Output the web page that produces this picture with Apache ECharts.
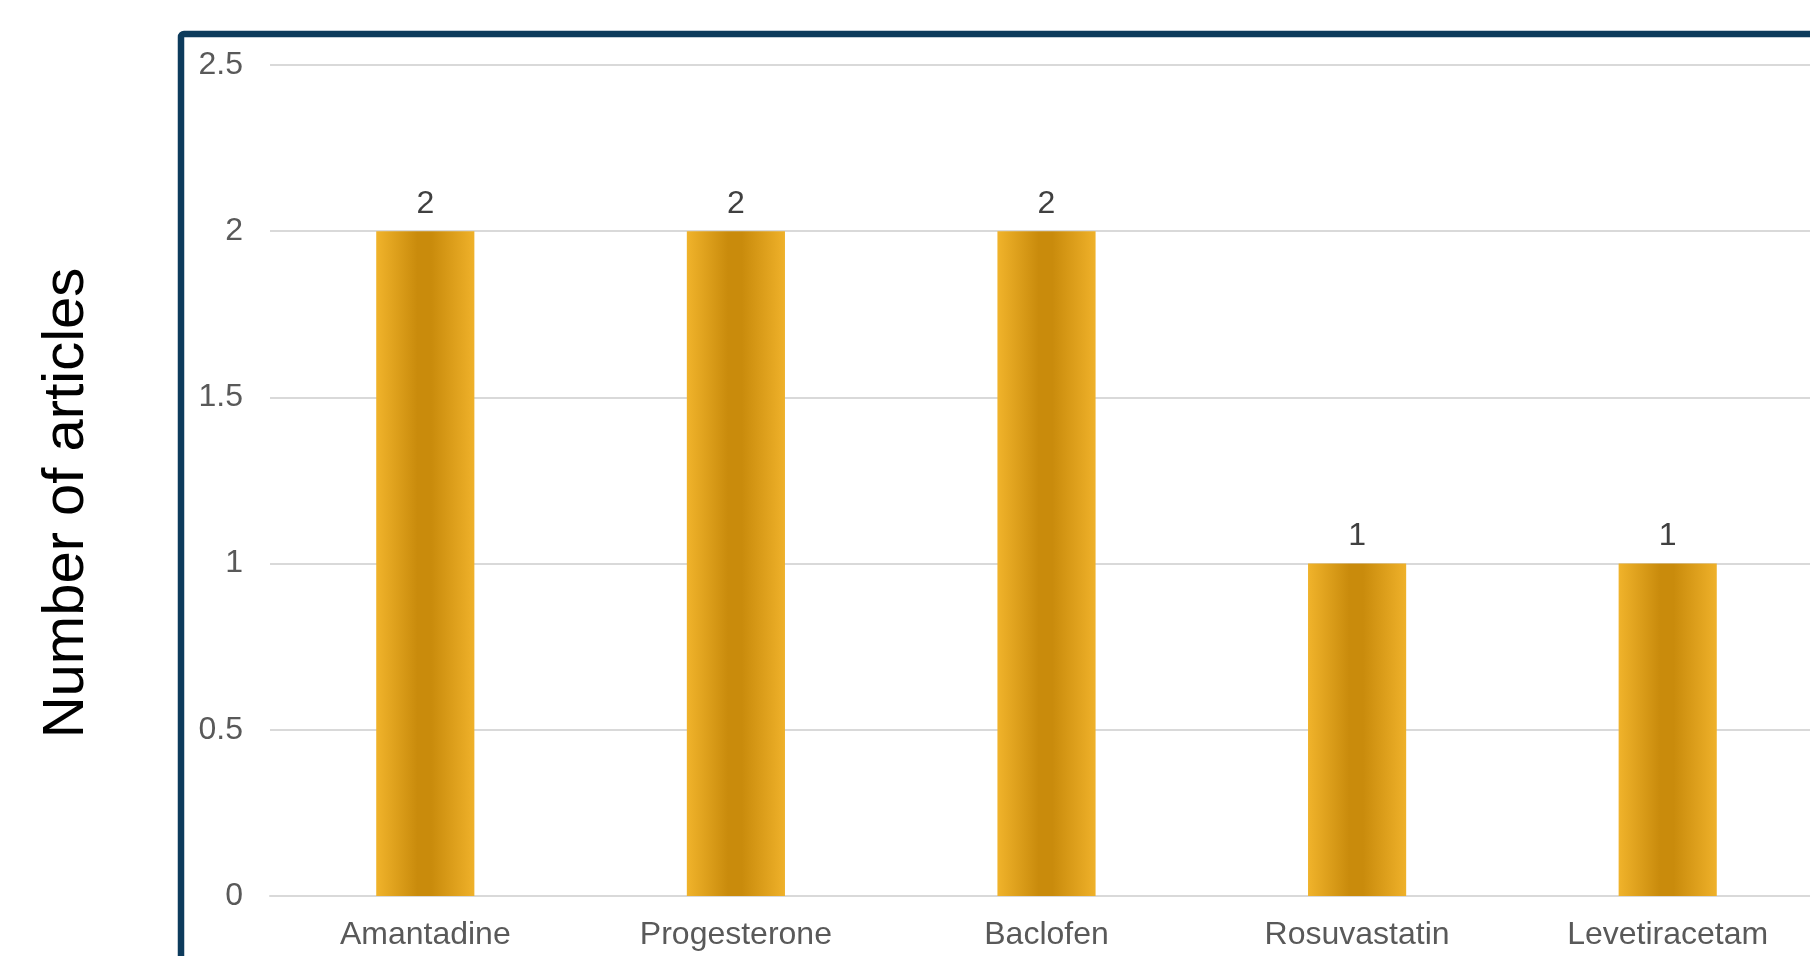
<!DOCTYPE html>
<html>
<head>
<meta charset="utf-8">
<script src="https://cdn.jsdelivr.net/npm/echarts@6/dist/echarts.min.js"></script>
<style>
  html, body { margin: 0; padding: 0; background: #ffffff; overflow: hidden; width: 1810px; height: 956px; }
  /* the drawing runs a little past the right edge of the page */
  #chart { width: 1823px; height: 956px; }
</style>
</head>
<body>
<div id="chart"></div>
<script>
// Drugs and the number of articles reporting each
const categories = ['Amantadine', 'Progesterone', 'Baclofen', 'Rosuvastatin', 'Levetiracetam'];
const articleCounts = [2, 2, 2, 1, 1];
const axisTitle = 'Number of articles';

const FONT = '"Liberation Sans", Arial, Helvetica, sans-serif';

const chart = echarts.init(document.getElementById('chart'), null, { renderer: 'canvas' });

// Gold bar fill: light edges, darker middle band
const barFill = new echarts.graphic.LinearGradient(0, 0, 1, 0, [
  { offset: 0, color: '#f0b32b' },
  { offset: 0.42, color: '#c98b0c' },
  { offset: 0.56, color: '#c98b0c' },
  { offset: 1, color: '#efb12a' }
]);

chart.setOption({
  animation: false,
  backgroundColor: '#ffffff',
  grid: { left: 270, top: 65, bottom: 60, right: 0, containLabel: false },
  xAxis: {
    type: 'category',
    data: categories,
    axisLine: { show: true, lineStyle: { color: '#d9d9d9', width: 2 } },
    axisTick: { show: false },
    axisLabel: { color: '#595959', fontSize: 32, fontFamily: FONT, margin: 23, interval: 0 },
    splitLine: { show: false }
  },
  yAxis: {
    type: 'value',
    min: 0,
    max: 2.5,
    interval: 0.5,
    axisLine: { show: false },
    axisTick: { show: false },
    axisLabel: { color: '#595959', fontSize: 32, fontFamily: FONT, margin: 27 },
    splitLine: { lineStyle: { color: '#d9d9d9', width: 2 } }
  },
  series: [{
    type: 'bar',
    data: articleCounts,
    barWidth: '31.6%',
    itemStyle: { color: barFill },
    label: {
      show: true,
      position: 'top',
      distance: 11,
      color: '#404040',
      fontSize: 32,
      fontFamily: FONT
    }
  }],
  graphic: [
    {
      type: 'rect',
      shape: { x: 181, y: 34, width: 2000, height: 2000, r: 3 },
      style: { fill: 'none', stroke: '#0d3b5c', lineWidth: 6.5 },
      silent: true
    },
    {
      type: 'text',
      x: 67,
      y: 503,
      rotation: Math.PI / 2,
      style: {
        text: axisTitle,
        fill: '#000000',
        font: '58px ' + FONT,
        textAlign: 'center',
        textVerticalAlign: 'middle'
      },
      silent: true
    }
  ]
});
</script>
</body>
</html>
